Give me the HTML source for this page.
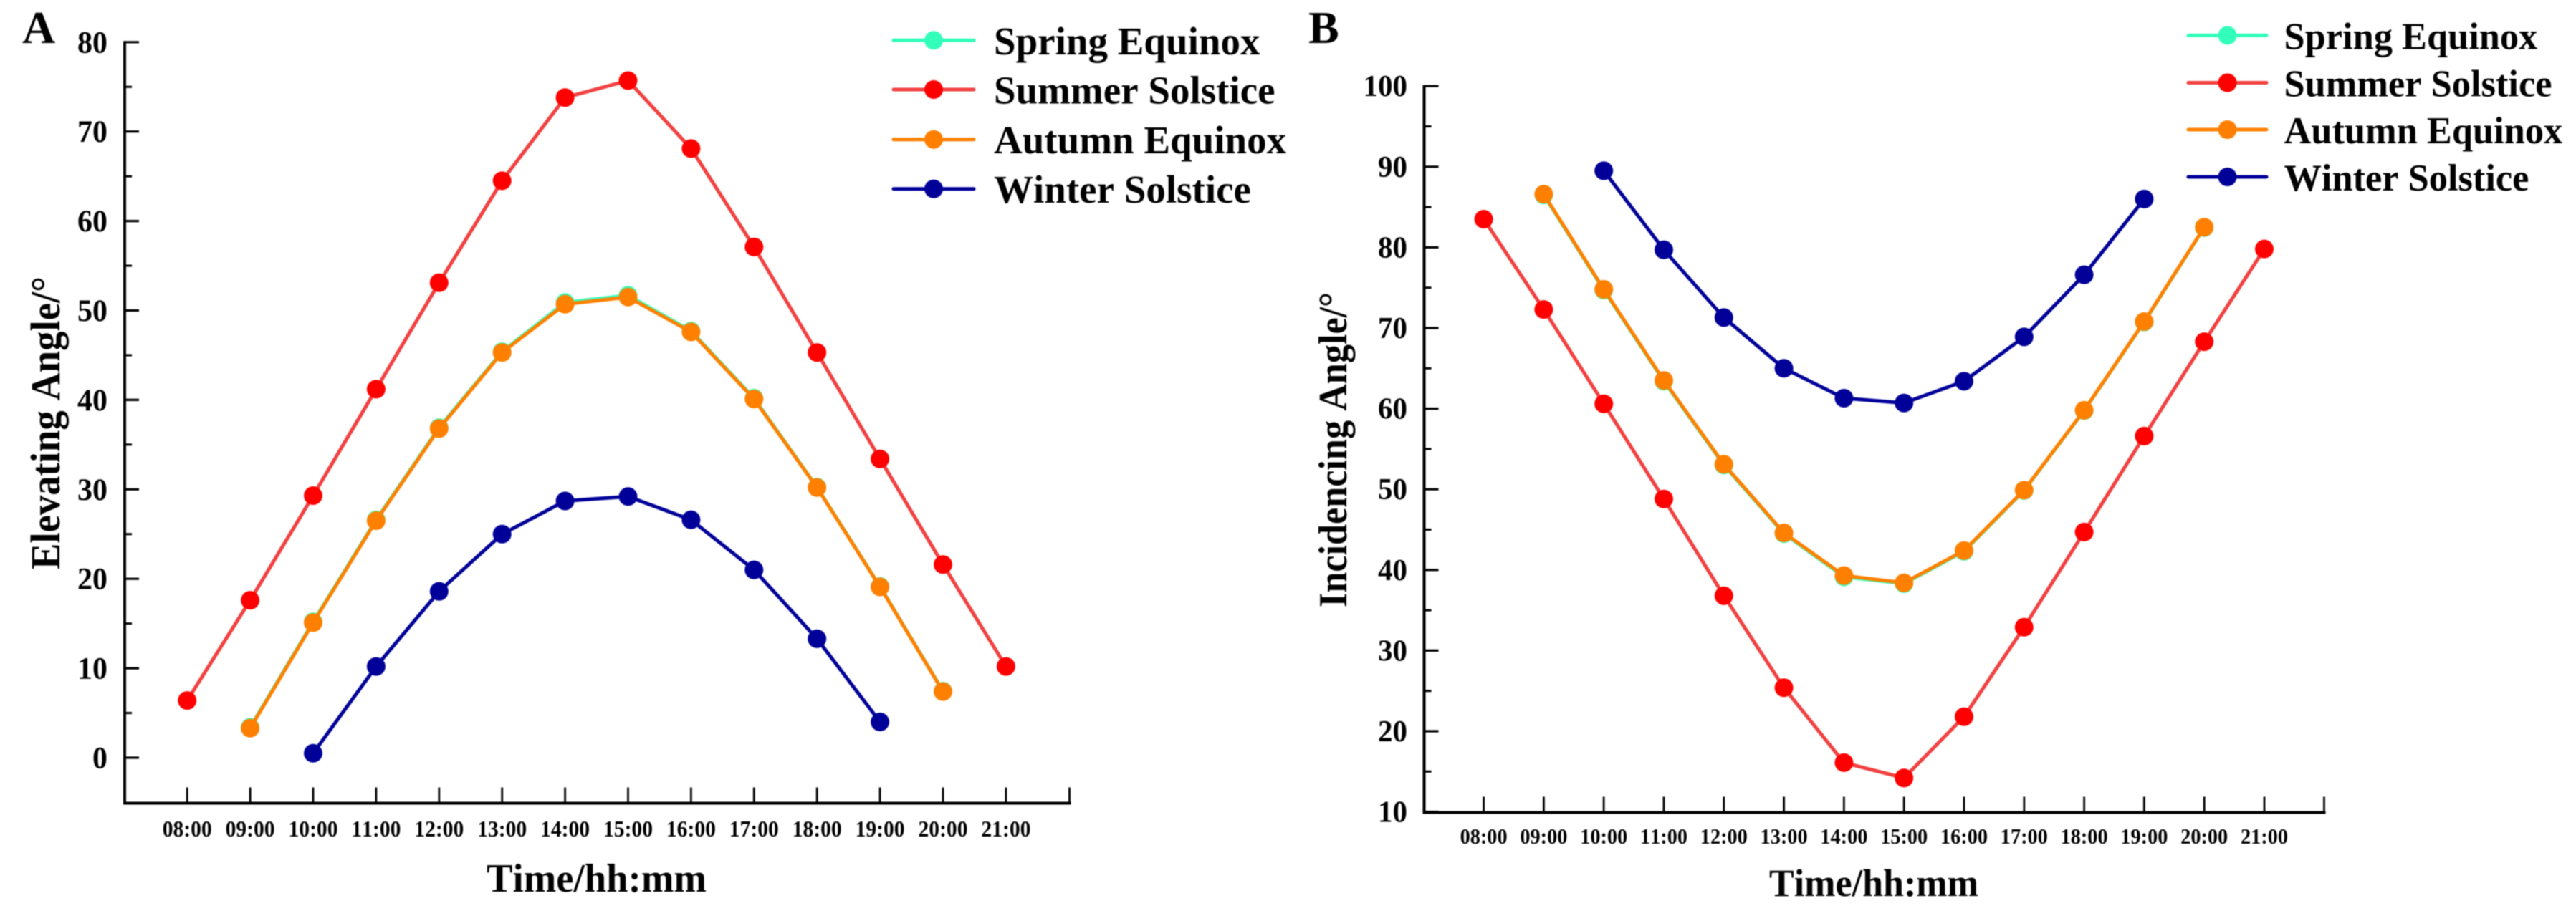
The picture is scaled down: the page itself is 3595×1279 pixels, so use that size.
<!DOCTYPE html>
<html lang="en">
<head>
<meta charset="utf-8">
<title>Elevating and Incidencing Angle by Time</title>
<style>
html,body{margin:0;padding:0;background:#fff;width:3595px;height:1279px;overflow:hidden}
svg{display:block;filter:blur(0.9px)}
text{font-family:"Liberation Serif","Times New Roman",serif;font-weight:bold;fill:#000;font-kerning:none}
</style>
</head>
<body>
<svg id="figure" xmlns="http://www.w3.org/2000/svg" width="3595" height="1279" viewBox="0 0 3595 1279">
<rect width="3595" height="1279" fill="#fff"/>
<g id="panel-a"></g>
<g id="panel-b"></g>
</svg>
<script>
const timeLabels = ['08:00','09:00','10:00','11:00','12:00','13:00','14:00','15:00','16:00','17:00','18:00','19:00','20:00','21:00'];
const seriesNames = ['Spring Equinox','Summer Solstice','Autumn Equinox','Winter Solstice'];

const elevTicks = [0,10,20,30,40,50,60,70,80];
const elevMinorTicks = [5,15,25,35,45,55,65,75];
const elevSpring = [null,3.4,15.2,26.6,36.9,45.4,50.9,51.7,47.7,40.2,30.25,19.15,7.45,null];
const elevSummer = [6.4,17.6,29.3,41.2,53.1,64.5,73.8,75.7,68.1,57.1,45.3,33.4,21.6,10.2];
const elevAutumn = [null,3.3,15.1,26.5,36.8,45.3,50.7,51.5,47.6,40.1,30.2,19.1,7.4,null];
const elevWinter = [null,null,0.5,10.2,18.6,25.0,28.7,29.2,26.6,21.0,13.3,4.0,null,null];

const incTicks = [10,20,30,40,50,60,70,80,90,100];
const incMinorTicks = [15,25,35,45,55,65,75,85,95];
const incSpring = [null,86.5,74.7,63.4,53.0,44.5,39.15,38.3,42.3,49.85,59.75,70.75,82.45,null];
const incSummer = [83.5,72.3,60.6,48.8,36.8,25.4,16.1,14.2,21.8,32.9,44.7,56.6,68.3,79.8];
const incAutumn = [null,86.6,74.8,63.5,53.1,44.6,39.3,38.4,42.4,49.9,59.8,70.8,82.5,null];
const incWinter = [null,null,89.5,79.7,71.3,65.0,61.3,60.7,63.4,68.9,76.6,86.0,null,null];

const lineColors = ['#33ffbb','#f24040','#ff8000','#000099'];
const markerColors = ['#33ffbb','#ff0000','#ff8000','#000099'];

const NS = 'http://www.w3.org/2000/svg';
function make(parent, tag, attrs, txt){
  const el = document.createElementNS(NS, tag);
  for (const k in attrs) el.setAttribute(k, attrs[k]);
  if (txt !== undefined) el.textContent = txt;
  parent.appendChild(el);
  return el;
}

function drawPanel(cfg){
  const g = document.getElementById(cfg.id);
  const xs = i => cfg.x0 + cfg.step * i;
  const ys = v => cfg.yRef - (v - cfg.vRef) * cfg.pxPerUnit;

  const letter = make(g,'text',{x:cfg.letterX,y:60,'font-size':64},cfg.letter);
  
  

  // axes
  const yAxis = make(g,'line',{x1:cfg.axisX,x2:cfg.axisX,y1:ys(cfg.ticks[cfg.ticks.length-1])-1.5,y2:cfg.axisY+2,stroke:'#000','stroke-width':4});
  
  
  const xAxis = make(g,'line',{x1:cfg.axisX-2,x2:cfg.axisEnd+2,y1:cfg.axisY,y2:cfg.axisY,stroke:'#000','stroke-width':4});
  
  

  // y ticks
  cfg.ticks.forEach(v=>{
    const tick = make(g,'line',{x1:cfg.axisX,x2:cfg.axisX+20,y1:ys(v),y2:ys(v),stroke:'#000','stroke-width':3.2});
    
    
    const s = String(v);
    const label = make(g,'text',{x:cfg.yLabelRight,y:ys(v)+cfg.yLabelDy,'font-size':cfg.yLabelSize,'text-anchor':'end',textLength:s.length*cfg.yDigitW,lengthAdjust:'spacingAndGlyphs'},s);
    
    
  });
  cfg.minor.forEach(v=>{
    const tick = make(g,'line',{x1:cfg.axisX,x2:cfg.axisX+10,y1:ys(v),y2:ys(v),stroke:'#000','stroke-width':3});
    
    
  });

  // x ticks
  timeLabels.forEach((t,i)=>{
    const tick = make(g,'line',{x1:xs(i),x2:xs(i),y1:cfg.axisY-22,y2:cfg.axisY,stroke:'#000','stroke-width':2.8});
    
    
    const label = make(g,'text',{x:xs(i),y:cfg.xLabelY,'font-size':cfg.xLabelSize,'text-anchor':'middle',textLength:cfg.xLabelLen,lengthAdjust:'spacingAndGlyphs'},t);
    
    
  });
  const endTick = make(g,'line',{x1:cfg.axisEnd,x2:cfg.axisEnd,y1:cfg.axisY-22,y2:cfg.axisY,stroke:'#000','stroke-width':2.8});
  
  

  // titles
  const xTitle = make(g,'text',{x:cfg.xTitleX,y:cfg.xTitleY,'font-size':cfg.xTitleSize,textLength:cfg.xTitleLen,lengthAdjust:'spacingAndGlyphs'},'Time/hh:mm');
  
  
  const yTitle = make(g,'text',{transform:`translate(${cfg.yTitleX},${cfg.yTitleBottom}) rotate(-90)`,'font-size':cfg.yTitleSize,textLength:cfg.yTitleLen,lengthAdjust:'spacingAndGlyphs'},cfg.yTitle);
  
  

  // series
  cfg.series.forEach((vals,s)=>{
    const sg = make(g,'g',{});
    
    
    const pts = [];
    vals.forEach((v,i)=>{ if (v !== null) pts.push(xs(i).toFixed(1)+','+ys(v).toFixed(1)); });
    const line = make(sg,'polyline',{points:pts.join(' '),fill:'none',stroke:lineColors[s],'stroke-width':5,'stroke-linejoin':'round'});
    
    
    vals.forEach((v,i)=>{
      if (v === null) return;
      const dot = make(sg,'circle',{cx:xs(i),cy:ys(v),r:13,fill:markerColors[s]});
      
      
    });
  });

  // legend
  const lg = make(g,'g',{});
  
  
  seriesNames.forEach((n,s)=>{
    const entry = make(lg,'g',{});
    
    
    const ly = cfg.legendYs[s];
    const ll = make(entry,'line',{x1:cfg.legendX1,x2:cfg.legendX2,y1:ly,y2:ly,stroke:lineColors[s],'stroke-width':5,'stroke-linecap':'round'});
    
    
    const lm = make(entry,'circle',{cx:(cfg.legendX1+cfg.legendX2)/2,cy:ly,r:13,fill:markerColors[s]});
    
    
    const lt = make(entry,'text',{x:cfg.legendTextX,y:ly+cfg.legendDy,'font-size':cfg.legendSize},n);
    
    
  });
}

drawPanel({
  id:'panel-a', letter:'A', letterX:31,
  x0:261.2, step:87.9, axisX:174, axisY:1121.5, axisEnd:1492.5,
  yRef:1058, vRef:0, pxPerUnit:12.49,
  ticks:elevTicks, minor:elevMinorTicks,
  yLabelRight:150, yLabelDy:14.5, yLabelSize:43, yDigitW:21,
  xLabelY:1168, xLabelSize:32, xLabelLen:69,
  xTitleX:679, xTitleY:1245, xTitleSize:56, xTitleLen:307,
  yTitle:'Elevating Angle/°', yTitleX:83, yTitleBottom:795, yTitleSize:58, yTitleLen:409,
  series:[elevSpring,elevSummer,elevAutumn,elevWinter],
  legendYs:[56.3,125,194.7,263.7], legendX1:1247, legendX2:1359, legendTextX:1387, legendDy:19.5, legendSize:55
});

drawPanel({
  id:'panel-b', letter:'B', letterX:1826,
  x0:2070.6, step:83.8, axisX:1987.5, axisY:1134.5, axisEnd:3243.5,
  yRef:1133.6, vRef:10, pxPerUnit:11.26,
  ticks:incTicks, minor:incMinorTicks,
  yLabelRight:1964, yLabelDy:14, yLabelSize:42, yDigitW:20.5,
  xLabelY:1178, xLabelSize:30.5, xLabelLen:66,
  xTitleX:2469, xTitleY:1251, xTitleSize:54, xTitleLen:292,
  yTitle:'Incidencing Angle/°', yTitleX:1879, yTitleBottom:848, yTitleSize:56, yTitleLen:440,
  series:[incSpring,incSummer,incAutumn,incWinter],
  legendYs:[49.4,115.5,181,247], legendX1:3054, legendX2:3163, legendTextX:3187.5, legendDy:19, legendSize:52.4
});
</script>
</body>
</html>
